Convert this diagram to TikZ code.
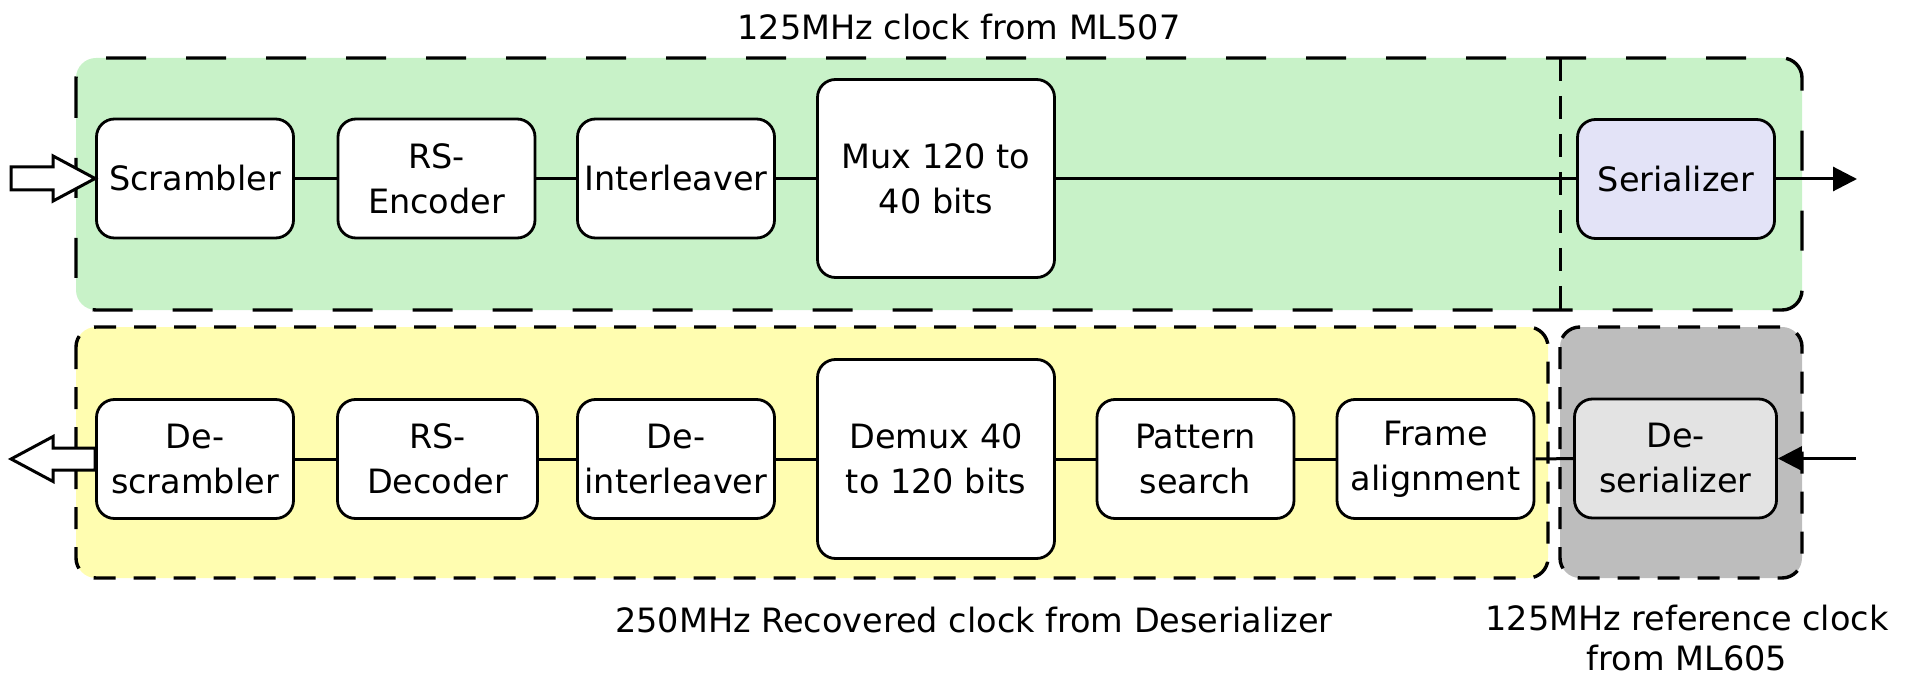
\documentclass[tikz,border=0pt]{standalone}
\usepackage{fontspec}
\setmainfont{DejaVu Sans}
\usetikzlibrary{arrows.meta,calc}
\definecolor{grnfill}{HTML}{C8F2C8}
\definecolor{yelfill}{HTML}{FFFDB0}
\definecolor{grayfill}{HTML}{BDBDBD}
\definecolor{serfill}{HTML}{E3E3F7}
\definecolor{dserfill}{HTML}{E3E3E3}
\begin{document}
\begin{tikzpicture}[x=1pt,y=-1pt,
  txt/.style={font=\fontsize{33.5}{40}\selectfont, inner sep=0pt, align=center},
  blk/.style={draw, line width=2.8pt, rounded corners=18pt, fill=white,
    minimum width=197pt, minimum height=119pt, align=center, inner sep=0pt,
    font=\fontsize{33.5}{45}\selectfont},
  wire/.style={line width=3pt},
  grp/.style={line width=3.4pt, rounded corners=20pt},
  hollow/.style={line width=3pt, fill=white, line join=miter},
  tip/.style={-{Triangle[length=24pt,width=24pt]}}]
\useasboundingbox (0,0) rectangle (1911,676);

% group boxes
\draw[grp, fill=grnfill, dash pattern=on 40pt off 40pt] (76,58) rectangle (1802,310);
\draw[line width=3pt, dash pattern=on 23pt off 15pt] (1560,58) -- (1560,310);
\draw[grp, fill=yelfill, dash pattern=on 22pt off 18pt] (76,327) rectangle (1548,578);
\draw[grp, fill=grayfill, dash pattern=on 22pt off 18pt] (1560,327) rectangle (1802,578);

% top row
\node[blk] (scr) at (195,178.5) {Scrambler};
\node[blk] (rse) at (436.5,178.5) {RS-\\Encoder};
\node[blk] (ilv) at (676,178.5) {Interleaver};
\node[blk, minimum width=237pt, minimum height=198pt] (mux) at (936,178.5) {Mux 120 to\\40 bits};
\node[blk, fill=serfill] (ser) at (1676,179) {Serializer};

% bottom row
\node[blk] (dscr) at (195,459) {De-\\scrambler};
\node[blk, minimum width=200pt] (rsd) at (437.5,459) {RS-\\Decoder};
\node[blk] (dil) at (676,459) {De-\\interleaver};
\node[blk, minimum width=237pt, minimum height=199pt] (dmx) at (936,459) {Demux 40\\to 120 bits};
\node[blk] (pat) at (1195.5,459) {Pattern\\search};
\node[blk] (frm) at (1435.5,459) {Frame\\alignment};
\node[blk, fill=dserfill, minimum width=202pt] (dser) at (1675.5,458.5) {De-\\serializer};

% connectors
\draw[wire] (scr) -- (rse);
\draw[wire] (rse) -- (ilv);
\draw[wire] (ilv) -- (mux);
\draw[wire] (mux.east |- ser.west) -- (ser.west);
\coordinate (outR) at (1857,179);
\draw[wire, tip] (ser.east) -- (outR);

\draw[wire] (dscr) -- (rsd);
\draw[wire] (rsd) -- (dil);
\draw[wire] (dil) -- (dmx);
\draw[wire] (dmx.east |- pat.west) -- (pat.west);
\draw[wire] (pat) -- (frm);
\draw[wire] (frm) -- (dser);
\coordinate (inR) at (1856,458.5);
\draw[wire, tip] (inR) -- (dser.east);

% hollow arrows
\draw[hollow] (scr.west) -- ++(-42,-22.5) -- ++(0,11) -- ++(-42,0) -- ++(0,23) -- ++(42,0) -- ++(0,11) -- cycle;
\draw[hollow] (dscr.west) ++(0,-11) -- ++(-42,0) -- ++(0,-11.5) -- ++(-42,22.5) -- ++(42,22.5) -- ++(0,-11.5) -- ++(42,0) -- cycle;

% labels
\node[txt, anchor=base] (topclk) at (959,40) {125MHz clock from ML507};
\node[txt, anchor=base] (recclk) at (974,632) {250MHz Recovered clock from Deserializer};
\node[txt, anchor=north] (refclk) at (1687,605) {125MHz reference clock\\from ML605};
\end{tikzpicture}
\end{document}
